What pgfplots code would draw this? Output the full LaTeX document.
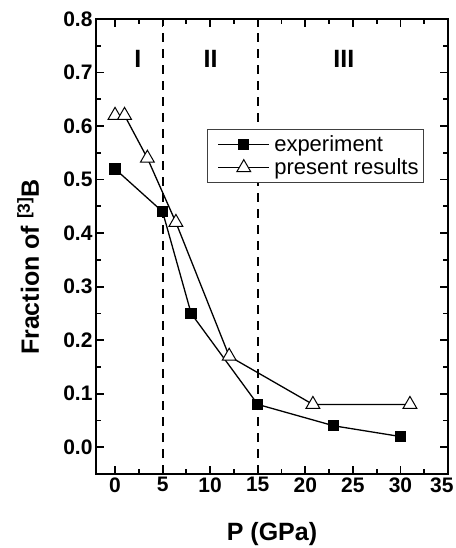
\documentclass[border=0pt]{standalone}
\usepackage{fontspec}
\setmainfont{Liberation Sans}
\usepackage{pgfplots}
\pgfplotsset{compat=1.18}
\begin{document}
\begin{tikzpicture}
\begin{axis}[name=ax,
 scale only axis, width=352pt, height=455pt,
 xmin=-2, xmax=35, ymin=-0.05, ymax=0.8,
 xtick={0,5,...,35}, ytick={0,0.1,0.2,0.3,0.4,0.5,0.6,0.7,0.8},
 xticklabels={0,5,10,15,20,25,30,\makebox[0pt][r]{35\kern-5.5pt}},
 minor x tick num=1, minor y tick num=1,
 tick align=inside, major tick length=8pt, minor tick length=5pt,
 axis line style={line width=2.5pt},
 tick style={line width=1.8pt, black},
 /pgf/number format/assume math mode=true,
 yticklabel style={/pgf/number format/fixed, /pgf/number format/fixed zerofill, /pgf/number format/precision=1},
 ticklabel style={font=\fontsize{21}{21}\selectfont\bfseries},
 xlabel={P (GPa)}, ylabel={Fraction of \textsuperscript{[3]}B},
 label style={font=\fontsize{25}{25}\selectfont\bfseries},
 xlabel style={at={(axis description cs:0.5,-0.132)}, anchor=center},
 ylabel style={at={(axis description cs:-0.193,0.455)}, anchor=center},
 legend style={at={(rel axis cs:0.315,0.758)}, anchor=north west,
   font=\fontsize{22}{22}\selectfont, draw=black!75, line width=0.8pt,
   inner xsep=3pt, inner ysep=4pt, row sep=2pt,
   nodes={inner sep=2pt}},
 legend cell align=left,
 legend image code/.code={\path[draw=none, fill=none, mark=none] (0pt,-1pt) rectangle (62pt,1pt); \draw[mark repeat=2,mark phase=2] plot coordinates {(8pt,0pt) (33.5pt,0pt) (59pt,0pt)};},
]
\addplot[black, line width=1.3pt, mark=square*, mark size=5pt, mark options={fill=black}]
 coordinates {(0,0.52) (5,0.44) (8,0.25) (15,0.08) (23,0.04) (30,0.02)};
\addlegendentry{experiment}
\addplot[black, line width=1.3pt, mark=triangle*, mark size=8pt, mark options={fill=white, line width=1pt}]
 coordinates {(0,0.62) (1,0.62) (3.4,0.54) (6.4,0.42) (12,0.17) (20.8,0.08) (31,0.08)};
\addlegendentry{present results}
\addplot[black, line width=2pt, dash pattern=on 9pt off 7pt, forget plot] coordinates {(5,-0.05) (5,0.8)};
\addplot[black, line width=2pt, dash pattern=on 9pt off 7pt, forget plot] coordinates {(15,-0.05) (15,0.8)};
\draw[line width=2.6pt] (rel axis cs:0,0) rectangle (rel axis cs:1,1);
\node[font=\fontsize{25}{25}\selectfont\bfseries] at (axis cs:2.4,0.725) {I};
\node[font=\fontsize{25}{25}\selectfont\bfseries] at (axis cs:10.05,0.725) {II};
\node[font=\fontsize{25}{25}\selectfont\bfseries] at (axis cs:24.05,0.725) {III};
\end{axis}
\pgfresetboundingbox
\path ([shift={(-96pt,-74pt)}]ax.south west) rectangle ([shift={(7pt,19pt)}]ax.north east);
\end{tikzpicture}
\end{document}
